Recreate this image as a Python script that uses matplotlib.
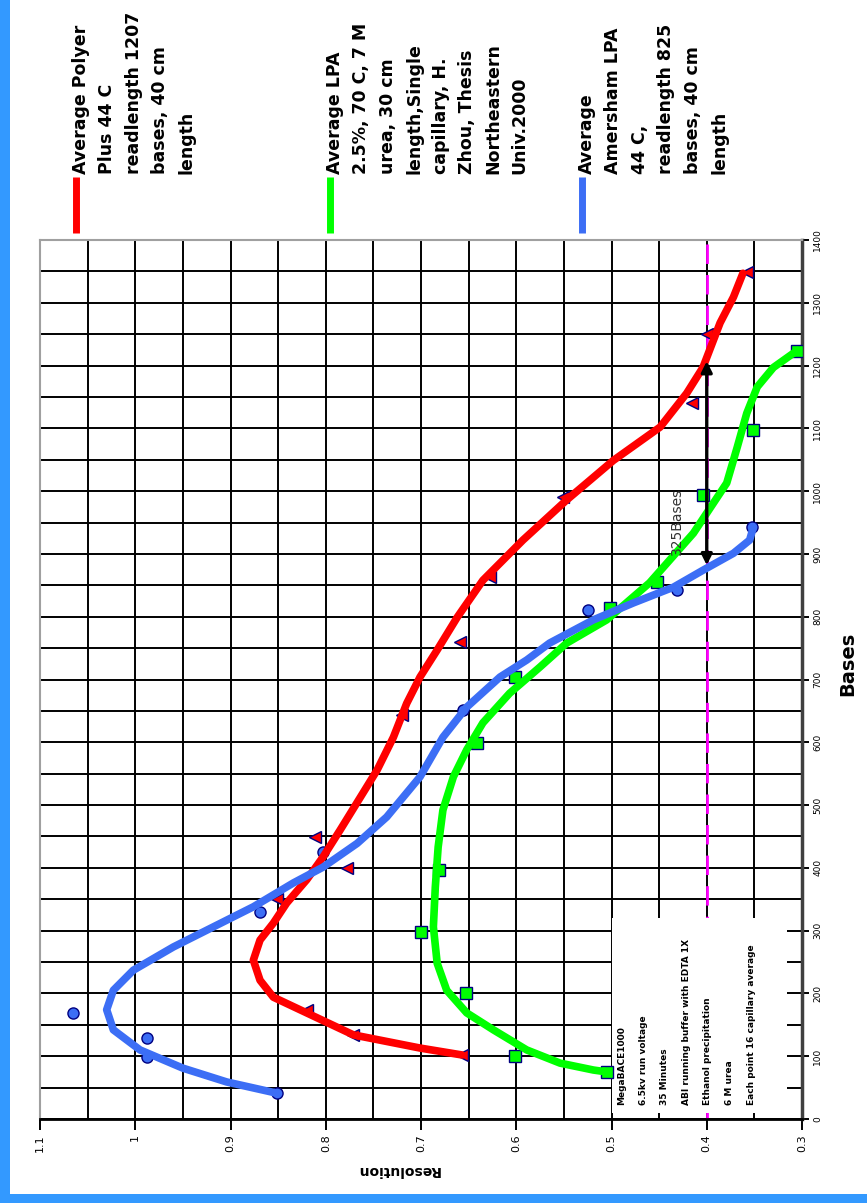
import matplotlib
matplotlib.use("Agg")
import matplotlib.pyplot as plt
import numpy as np
from matplotlib.patches import Rectangle
from matplotlib.ticker import FixedLocator, FixedFormatter

# ---- data: (resolution, bases) ----
# POP-style polymer (red)
polyer_curve_res = [0.657, 0.701, 0.771, 0.820, 0.855, 0.869, 0.876, 0.869, 0.855, 0.841,
                    0.820, 0.803, 0.785, 0.761, 0.746, 0.729, 0.715, 0.701, 0.683, 0.662,
                    0.635, 0.593, 0.547, 0.498, 0.449, 0.421, 0.404, 0.386, 0.372, 0.362]
polyer_curve_bases = [102, 113, 134, 169, 194, 221, 253, 285, 312, 344,
                      381, 417, 460, 519, 556, 608, 662, 704, 747, 799,
                      858, 922, 986, 1049, 1102, 1156, 1197, 1268, 1309, 1347]
polyer_pts_res = [0.657, 0.771, 0.820, 0.851, 0.778, 0.811, 0.720, 0.659, 0.628, 0.551, 0.416, 0.400, 0.358]
polyer_pts_bases = [102, 134, 174, 350, 400, 449, 643, 760, 863, 990, 1140, 1251, 1349]

# LPA thesis data (green)
lpa_curve_res = [0.505, 0.519, 0.554, 0.589, 0.624, 0.652, 0.673, 0.683, 0.687, 0.685,
                 0.682, 0.677, 0.666, 0.652, 0.635, 0.607, 0.575, 0.547, 0.505, 0.460,
                 0.414, 0.400, 0.379, 0.368, 0.358, 0.347, 0.330, 0.305]
lpa_curve_bases = [75, 78, 89, 110, 142, 169, 205, 248, 306, 369,
                   433, 492, 545, 588, 631, 678, 720, 758, 795, 854,
                   933, 965, 1013, 1070, 1124, 1166, 1197, 1224]
lpa_pts_res = [0.505, 0.601, 0.653, 0.700, 0.681, 0.641, 0.601, 0.502, 0.452, 0.404, 0.351, 0.305]
lpa_pts_bases = [75, 100, 200, 298, 397, 599, 704, 814, 855, 994, 1097, 1224]

# Amersham LPA (blue)
amersham_curve_res = [0.851, 0.904, 0.950, 0.995, 1.023, 1.030, 1.023, 1.002, 0.960, 0.918,
                      0.876, 0.834, 0.803, 0.767, 0.736, 0.701, 0.677, 0.652, 0.617, 0.589,
                      0.565, 0.519, 0.477, 0.435, 0.404, 0.372, 0.355, 0.351]
amersham_curve_bases = [41, 59, 81, 110, 142, 174, 205, 237, 274, 306,
                        338, 376, 401, 439, 481, 545, 608, 656, 704, 731,
                        758, 795, 822, 847, 874, 901, 922, 943]
amersham_pts_res = [0.851, 0.988, 0.988, 1.065, 0.869, 0.803, 0.656, 0.525, 0.431, 0.352]
amersham_pts_bases = [41, 99, 129, 169, 330, 425, 651, 810, 842, 943]

res_ticks = [1.1, 1.0, 0.9, 0.8, 0.7, 0.6, 0.5, 0.4, 0.3]
res_labels = ["1.1", "1", "0.9", "0.8", "0.7", "0.6", "0.5", "0.4", "0.3"]
bases_ticks = list(range(0, 1401, 100))

threshold = 0.4
span_start = 882
span_len = 325

legend_texts = [
    "Average Polyer\nPlus 44 C\nreadlength 1207\nbases, 40 cm\nlength",
    "Average LPA\n2.5%, 70 C, 7 M\nurea, 30 cm\nlength,Single\ncapillary, H.\nZhou, Thesis\nNortheastern\nUniv.2000",
    "Average\nAmersham LPA\n44 C,\nreadlength 825\nbases, 40 cm\nlength",
]
conditions = ["MegaBACE1000", "6.5kv run voltage", "35 Minutes",
              "ABI running buffer with EDTA 1X", "Ethanol precipitation",
              "6 M urea", "Each point 16 capillary average"]

RED = "#ff0000"
GREEN = "#00ff00"
BLUE = "#3c6ef5"
EDGE = "#000080"
W, H = 867, 1203

fig = plt.figure(figsize=(W / 100, H / 100), dpi=100)
fig.patch.set_facecolor("white")

# main chart (rotated layout: bases vertical, resolution horizontal)
ax = fig.add_axes([40 / W, 1 - 1119 / H, 762 / W, 879 / H], zorder=1)
ax.set_xlim(1.1, 0.3)
ax.set_ylim(0, 1400)

ax.xaxis.set_major_locator(FixedLocator(res_ticks))
ax.xaxis.set_major_formatter(FixedFormatter(res_labels))
ax.xaxis.set_minor_locator(FixedLocator(np.arange(0.35, 1.1, 0.1)))
ax.yaxis.set_major_locator(FixedLocator(bases_ticks))
ax.yaxis.set_minor_locator(FixedLocator(np.arange(50, 1400, 100)))
ax.yaxis.tick_right()

ax.set_axisbelow(True)
ax.grid(which="both", color="black", lw=1.4)
ax.tick_params(axis="x", which="major", length=8, width=1.4, labelsize=8,
               labelrotation=90, pad=3)
ax.tick_params(axis="y", which="major", length=5, width=1.4, labelsize=6.5,
               labelrotation=90, pad=3)
ax.tick_params(which="minor", length=0)
for lab in ax.get_yticklabels():
    lab.set_va("center")

ax.spines["top"].set_color("#a0a0a0")
ax.spines["left"].set_color("#a0a0a0")
ax.spines["top"].set_linewidth(1.5)
ax.spines["left"].set_linewidth(1.5)
ax.spines["bottom"].set_linewidth(2)
ax.spines["right"].set_color("#404040")
ax.spines["right"].set_linewidth(2.5)

ax.axvline(threshold, color="#ff00ff", lw=2, dashes=(7, 4), zorder=1)

# white box holding run conditions
ax.add_patch(Rectangle((0.316, 10), 0.5 - 0.316, 320 - 10, facecolor="white",
                       edgecolor="none", zorder=1.5))

ax.plot(polyer_pts_res, polyer_pts_bases, ls="none", marker="<", ms=9,
        mfc=RED, mec=EDGE, mew=1, zorder=3)
ax.plot(lpa_pts_res, lpa_pts_bases, ls="none", marker="s", ms=8,
        mfc=GREEN, mec=EDGE, mew=1, zorder=3)
ax.plot(amersham_pts_res, amersham_pts_bases, ls="none", marker="o", ms=8,
        mfc=BLUE, mec=EDGE, mew=1, zorder=3)

ax.plot(polyer_curve_res, polyer_curve_bases, color=RED, lw=5.5, zorder=4,
        solid_capstyle="round", solid_joinstyle="round")
ax.plot(lpa_curve_res, lpa_curve_bases, color=GREEN, lw=5.5, zorder=4,
        solid_capstyle="round", solid_joinstyle="round")
ax.plot(amersham_curve_res, amersham_curve_bases, color=BLUE, lw=5.5, zorder=4,
        solid_capstyle="round", solid_joinstyle="round")

ax.annotate("", xy=(threshold, span_start + span_len), xytext=(threshold, span_start),
            arrowprops=dict(arrowstyle="<|-|>", color="black", lw=2.4,
                            mutation_scale=16, shrinkA=0, shrinkB=0), zorder=5)
ax.text(0.431, span_start + 70, f"{span_len}Bases", rotation=90, ha="center",
        va="center", fontsize=10, color="#333333", zorder=5)

# overlay in pixel units for frame, legend and labels
ov = fig.add_axes([0, 0, 1, 1], zorder=2)
ov.set_xlim(0, W)
ov.set_ylim(H, 0)
ov.axis("off")
ov.add_patch(Rectangle((0, 0), 10, H, color="#3399ff", lw=0))
ov.add_patch(Rectangle((0, 1194), W, H - 1194, color="#3399ff", lw=0))

for x0, col, txt in zip([76, 330, 582], [RED, GREEN, BLUE], legend_texts):
    ov.plot([x0, x0], [177, 233], color=col, lw=5, solid_capstyle="butt")
    ov.text(x0 - 4, 174, txt, rotation=90, ha="left", va="bottom",
            multialignment="left", fontsize=12.5, fontweight="bold",
            linespacing=1.6)

ov.text(617, 1105, "\n".join(conditions), rotation=90, ha="left", va="bottom",
        multialignment="left", fontsize=6.5, fontweight="bold", linespacing=2.8)

ov.text(398, 1170, "Resolution", rotation=180, ha="center", va="center",
        fontsize=10, fontweight="bold")
ov.text(848, 664, "Bases", rotation=90, ha="center", va="center",
        fontsize=14, fontweight="bold", family=["Liberation Sans Narrow", "DejaVu Sans"])

fig.savefig("out.png", dpi=100)
